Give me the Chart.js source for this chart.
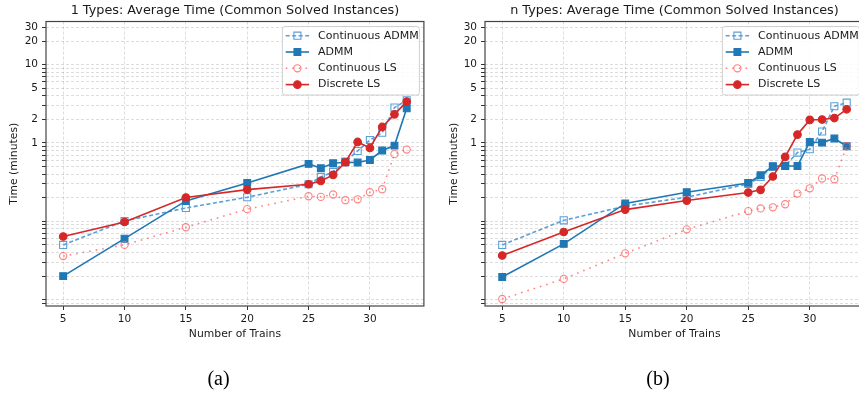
<!DOCTYPE html>
<html>
<head>
<meta charset="utf-8">
<script src="https://cdn.jsdelivr.net/npm/chart.js"></script>
<style>
html, body { margin: 0; padding: 0; background: #fff; overflow: hidden; }
#wrap { position: relative; width: 859px; height: 396px; overflow: hidden; }
canvas { position: absolute; top: 0; }
</style>
</head>
<body>
<div id="wrap">
  <canvas id="chartA" width="430" height="396" style="left:0px"></canvas>
  <canvas id="chartB" width="440" height="396" style="left:430px"></canvas>
</div>
<script>
// x values shared by both panels
var trains = [5, 10, 15, 20, 25, 26, 27, 28, 29, 30, 31, 32, 33];
var xTicks = [5, 10, 15, 20, 25, 30];
var yLabelled = [1, 2, 5, 10, 20, 30];
var yTicks = [0.009, 0.01, 0.02, 0.03, 0.04, 0.05, 0.06, 0.07, 0.08, 0.09,
              0.1, 0.2, 0.3, 0.4, 0.5, 0.6, 0.7, 0.8, 0.9,
              1, 2, 3, 4, 5, 6, 7, 8, 9, 10, 20, 30];

// (a) 1 types, minutes
var contAdmmA = [0.050, 0.101, 0.148, 0.203, 0.297, 0.368, 0.427, 0.58, 0.79, 1.09, 1.35, 2.83, 3.5];
var admmA     = [0.020, 0.060, 0.182, 0.309, 0.540, 0.476, 0.551, 0.567, 0.562, 0.607, 0.80, 0.926, 2.77];
var contLsA   = [0.036, 0.050, 0.084, 0.143, 0.209, 0.205, 0.220, 0.186, 0.191, 0.235, 0.257, 0.72, 0.824];
var discLsA   = [0.064, 0.098, 0.201, 0.254, 0.297, 0.328, 0.391, 0.567, 1.03, 0.863, 1.60, 2.32, 3.37];

// (b) n types, minutes
var contAdmmB = [0.050, 0.103, 0.156, 0.203, 0.300, 0.368, 0.494, 0.51, 0.754, 0.831, 1.40, 2.94, 3.27];
var admmB     = [0.0195, 0.0515, 0.169, 0.235, 0.309, 0.387, 0.504, 0.509, 0.509, 1.03, 1.01, 1.14, 0.908];
var contLsB   = [0.0102, 0.0184, 0.039, 0.079, 0.135, 0.146, 0.151, 0.165, 0.226, 0.264, 0.352, 0.344, 0.908];
var discLsB   = [0.0366, 0.073, 0.141, 0.184, 0.233, 0.252, 0.373, 0.663, 1.28, 1.97, 1.99, 2.08, 2.69];

var seriesStyle = [
  {label: 'Continuous ADMM', color: '#5b9fd8', dash: [4, 2.5], style: 'rect', r: 5, fill: 'rgba(255,255,255,0)', order: 3},
  {label: 'ADMM', color: '#1f77b4', dash: [], style: 'rect', r: 4.8, fill: '#1f77b4', order: 2},
  {label: 'Continuous LS', color: 'rgba(255,100,100,0.8)', dash: [1.6, 5], style: 'circle', r: 3.6, fill: 'rgba(255,255,255,0)', order: 1},
  {label: 'Discrete LS', color: '#d62728', dash: [], style: 'circle', r: 3.8, fill: '#d62728', order: 0}
];

var FONT = "'DejaVu Sans', sans-serif";

function points(vals) {
  return trains.map(function (t, i) { return {x: t, y: vals[i]}; });
}

function buildDatasets(list) {
  return list.map(function (vals, i) {
    var s = seriesStyle[i];
    return {
      label: s.label,
      data: points(vals),
      borderColor: s.color,
      borderWidth: 1.6,
      borderDash: s.dash,
      pointStyle: s.style,
      pointRadius: s.r,
      pointBackgroundColor: s.fill,
      pointBorderColor: s.color,
      pointBorderWidth: 1.1,
      tension: 0,
      fill: false,
      order: s.order,
      clip: false
    };
  });
}

var decor = {
  id: 'decor',
  afterDatasetsDraw: function (chart) {
    var ca = chart.chartArea, ctx = chart.ctx;
    ctx.save();
    ctx.strokeStyle = '#444';
    ctx.lineWidth = 1.2;
    ctx.setLineDash([]);
    ctx.strokeRect(ca.left, ca.top, ca.right - ca.left, ca.bottom - ca.top);
    ctx.restore();
  },
  afterDraw: function (chart, args, o) {
    var ca = chart.chartArea, ctx = chart.ctx;
    ctx.save();
    // legend box
    var right = ca.right - 4.5, left = right - 137, top = 26.5;
    ctx.fillStyle = 'rgba(255,255,255,0.85)';
    ctx.strokeStyle = '#d0d0d0';
    ctx.lineWidth = 1;
    ctx.beginPath();
    if (ctx.roundRect) ctx.roundRect(left, top, 137, 68.5, 2.5); else ctx.rect(left, top, 137, 68.5);
    ctx.fill();
    ctx.stroke();
    seriesStyle.forEach(function (s, i) {
      var y = top + 9.2 + i * 16.3;
      ctx.strokeStyle = s.color;
      ctx.lineWidth = 1.6;
      ctx.setLineDash(s.dash);
      ctx.beginPath();
      ctx.moveTo(left + 3.3, y);
      ctx.lineTo(left + 26.7, y);
      ctx.stroke();
      ctx.setLineDash([]);
      ctx.fillStyle = s.fill;
      ctx.lineWidth = 1.1;
      Chart.helpers.drawPoint(ctx, {pointStyle: s.style, radius: s.r, rotation: 0, borderWidth: 1.1}, left + 15, y);
      ctx.fillStyle = '#1a1a1a';
      ctx.font = '11px ' + FONT;
      ctx.textAlign = 'left';
      ctx.textBaseline = 'middle';
      ctx.fillText(s.label, left + 35.7, y);
    });
    // title
    ctx.fillStyle = '#1a1a1a';
    ctx.textAlign = 'center';
    ctx.textBaseline = 'middle';
    ctx.font = '12.8px ' + FONT;
    ctx.fillText(o.title, (ca.left + ca.right) / 2, 11);
    // axis labels
    ctx.font = '10.8px ' + FONT;
    ctx.textBaseline = 'alphabetic';
    ctx.fillText('Number of Trains', (ca.left + ca.right) / 2, 337);
    ctx.save();
    ctx.translate(o.ylabelX, (ca.top + ca.bottom) / 2);
    ctx.rotate(-Math.PI / 2);
    ctx.textBaseline = 'middle';
    ctx.fillText('Time (minutes)', 0, 0);
    ctx.restore();
    // caption
    ctx.font = "20px 'Liberation Serif', serif";
    ctx.fillStyle = '#000';
    ctx.textBaseline = 'middle';
    ctx.fillText(o.caption, o.captionX, 380);
    ctx.restore();
  }
};

function gridOpts() {
  return {
    color: 'rgba(0,0,0,0.17)',
    lineWidth: 0.8,
    borderDash: [3, 2],
    drawTicks: true,
    tickLength: 4,
    tickColor: '#333',
    tickBorderDash: [],
    tickWidth: 1
  };
}

function makeChart(id, list, title, caption, captionX, yw, ylabelX, padRight) {
  var ctx = document.getElementById(id).getContext('2d');
  return new Chart(ctx, {
    type: 'line',
    data: {datasets: buildDatasets(list)},
    options: {
      responsive: false,
      animation: false,
      devicePixelRatio: 1,
      layout: {padding: {top: 21.5, right: padRight, left: 0, bottom: 0}},
      plugins: {
        legend: {display: false},
        tooltip: {enabled: false},
        decor: {title: title, caption: caption, captionX: captionX, ylabelX: ylabelX}
      },
      scales: {
        x: {
          type: 'linear',
          min: 3.6,
          max: 34.4,
          afterBuildTicks: function (s) { s.ticks = xTicks.map(function (v) { return {value: v}; }); },
          afterFit: function (s) { s.height = 90; },
          ticks: {autoSkip: false, maxRotation: 0, padding: 3, color: '#1a1a1a', font: {family: FONT, size: 10.5},
                  callback: function (v) { return String(v); }},
          grid: gridOpts(),
          border: {display: false, dash: [3, 2]}
        },
        y: {
          type: 'logarithmic',
          min: 0.0083,
          max: 35.5,
          afterBuildTicks: function (s) { s.ticks = yTicks.map(function (v) { return {value: v}; }); },
          afterFit: function (s) { s.width = yw; },
          ticks: {autoSkip: false, padding: 4, color: '#1a1a1a', font: {family: FONT, size: 10.5},
                  callback: function (v) { return yLabelled.indexOf(v) >= 0 ? String(v) : ''; }},
          grid: gridOpts(),
          border: {display: false, dash: [3, 2]}
        }
      }
    },
    plugins: [decor]
  });
}

makeChart('chartA', [contAdmmA, admmA, contLsA, discLsA],
  '1 Types: Average Time (Common Solved Instances)', '(a)', 218.5, 46, 14.5, 2);
makeChart('chartB', [contAdmmB, admmB, contLsB, discLsB],
  'n Types: Average Time (Common Solved Instances)', '(b)', 228, 55, 24.5, 3);
</script>
</body>
</html>
